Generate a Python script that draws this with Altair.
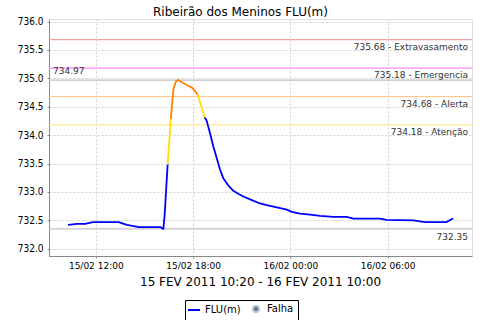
import altair as alt
import pandas as pd

# ---- Série FLU(m) ----
horas = [
    "2011-02-15T10:20", "2011-02-15T10:50", "2011-02-15T11:20", "2011-02-15T11:50",
    "2011-02-15T13:25", "2011-02-15T13:55", "2011-02-15T14:40", "2011-02-15T16:00",
    "2011-02-15T16:10", "2011-02-15T16:15", "2011-02-15T16:26", "2011-02-15T16:38",
    "2011-02-15T16:47", "2011-02-15T16:56", "2011-02-15T17:05", "2011-02-15T17:18",
    "2011-02-15T17:42", "2011-02-15T17:55", "2011-02-15T18:07", "2011-02-15T18:17",
    "2011-02-15T18:44", "2011-02-15T18:50", "2011-02-15T19:03", "2011-02-15T19:15",
    "2011-02-15T19:28", "2011-02-15T19:40", "2011-02-15T19:52", "2011-02-15T20:11",
    "2011-02-15T20:29", "2011-02-15T20:47", "2011-02-15T21:06", "2011-02-15T21:31",
    "2011-02-15T22:01", "2011-02-15T22:32", "2011-02-15T23:10", "2011-02-15T23:47",
    "2011-02-16T00:05", "2011-02-16T00:36", "2011-02-16T01:13", "2011-02-16T01:50",
    "2011-02-16T02:39", "2011-02-16T03:28", "2011-02-16T03:53", "2011-02-16T05:32",
    "2011-02-16T05:56", "2011-02-16T07:35", "2011-02-16T08:18", "2011-02-16T09:38",
    "2011-02-16T10:00",
]
nivel = [
    732.42, 732.44, 732.44, 732.47,
    732.47, 732.42, 732.38, 732.38,
    732.35, 732.60, 733.49, 734.30,
    734.80, 734.94, 734.97, 734.93,
    734.87, 734.84, 734.78, 734.71,
    734.30, 734.26, 734.03, 733.80,
    733.59, 733.39, 733.24, 733.11,
    733.02, 732.97, 732.92, 732.87,
    732.81, 732.77, 732.73, 732.69,
    732.65, 732.62, 732.60, 732.58,
    732.56, 732.56, 732.53, 732.53,
    732.51, 732.50, 732.47, 732.47,
    732.53,
]
# colour class of the segment that ends at each point
cor_segmento = (
    ["azul"] * 11 + ["amarelo"] + ["laranja"] * 8 + ["amarelo"] + ["azul"] * 28
)
classes = ["azul", "amarelo", "laranja"]
classes_cores = ["#0000FF", "#FFE000", "#FF8000"]

# ---- Limiares ----
limiar_valores = [735.68, 735.18, 734.68, 734.18]
limiar_nomes = ["Extravasamento", "Emergencia", "Alerta", "Atenção"]
limiar_cores = ["#F4A0A0", "#FF8CFF", "#FFC888", "#FFE88C"]

maximo = 734.97
minimo = 732.35

y_ticks = [732.0, 732.5, 733.0, 733.5, 734.0, 734.5, 735.0, 735.5, 736.0]
titulo = "Ribeirão dos Meninos FLU(m)"
subtitulo = "15 FEV 2011 10:20 - 16 FEV 2011 10:00"
legenda_series = ["FLU(m)", "Falha"]
legenda_cores = ["#0000FF", "#C0C0C0"]

# ---- build tables ----
rows = []
run = 0
for i in range(1, len(horas)):
    if i > 1 and cor_segmento[i] != cor_segmento[i - 1]:
        run += 1
    for j in (i - 1, i):
        rows.append({"t": horas[j], "v": nivel[j], "run": run, "cor": cor_segmento[i]})
serie = pd.DataFrame(rows)

limiares = pd.DataFrame({
    "v": limiar_valores,
    "nome": limiar_nomes,
    "rotulo": [f"{v:.2f} - {n}" for v, n in zip(limiar_valores, limiar_nomes)],
})
extremos_max = pd.DataFrame({"v": [maximo], "rotulo": [f"{maximo:.2f}"]})
extremos_min = pd.DataFrame({"v": [minimo], "rotulo": [f"{minimo:.2f}"]})
legenda = pd.DataFrame({"serie": legenda_series})

W, H = 423, 237
FONT = "DejaVu Sans"

x_scale = alt.Scale(domain=[alt.DateTime(year=2011, month=2, date=15, hours=9, minutes=7),
                            alt.DateTime(year=2011, month=2, date=16, hours=11, minutes=12)])
y_scale = alt.Scale(domain=[731.873, 736.044], nice=False, zero=False)

x_axis = alt.Axis(
    title=None,
    values=[alt.DateTime(year=2011, month=2, date=15, hours=12),
            alt.DateTime(year=2011, month=2, date=15, hours=18),
            alt.DateTime(year=2011, month=2, date=16, hours=0),
            alt.DateTime(year=2011, month=2, date=16, hours=6)],
    format="%d/%m %H:%M", labelFontSize=9, labelFont=FONT, labelColor="#000",
    tickSize=2, labelPadding=3,
    domainColor="#888888", tickColor="#888888",
    gridColor="#D0D0D0", gridDash=[2, 2],
)
y_axis = alt.Axis(
    title=None, values=y_ticks, format=".1f", labelFontSize=10,
    labelFont="DejaVu Sans Condensed", labelColor="#000",
    tickSize=2, labelPadding=4, domainColor="#888888", tickColor="#888888",
    gridColor="#D0D0D0", gridDash=[2, 2],
)

X = alt.X("t:T", scale=x_scale, axis=x_axis)
Y = alt.Y("v:Q", scale=y_scale, axis=y_axis)

regras = alt.Chart(limiares).mark_rule(strokeWidth=1.2).encode(
    y=Y,
    color=alt.Color("nome:N", scale=alt.Scale(domain=limiar_nomes, range=limiar_cores), legend=None),
)
regras_ext = alt.Chart(pd.concat([extremos_max, extremos_min])).mark_rule(
    strokeWidth=1.2, color="#C0C0C0").encode(y=Y)

rot_lim = alt.Chart(limiares).mark_text(
    align="right", baseline="top", dy=3, fontSize=9, font=FONT, color="#333333"
).encode(y=Y, x=alt.value(W - 4), text="rotulo:N")
rot_max = alt.Chart(extremos_max).mark_text(
    align="left", baseline="bottom", dy=-4, fontSize=9, font=FONT, color="#333333"
).encode(y=Y, x=alt.value(4), text="rotulo:N")
rot_min = alt.Chart(extremos_min).mark_text(
    align="right", baseline="top", dy=4, fontSize=9, font=FONT, color="#333333"
).encode(y=Y, x=alt.value(W - 4), text="rotulo:N")

# period caption under the time axis (axis title)
periodo = alt.Chart(pd.DataFrame({"rotulo": [subtitulo]})).mark_text(
    align="center", baseline="alphabetic", fontSize=12, font=FONT,
    fontWeight="normal", color="#000"
).encode(x=alt.value(W / 2), y=alt.value(H + 30), text="rotulo:N")

linha = alt.Chart(serie).mark_line(strokeWidth=1.8, strokeJoin="round", strokeCap="round").encode(
    x=X, y=Y,
    color=alt.Color("cor:N", scale=alt.Scale(domain=classes, range=classes_cores), legend=None),
    detail="run:N",
)

leg = alt.Legend(
    title=None, orient="none", legendX=136, legendY=281, direction="horizontal",
    strokeColor="#000", fillColor="#FFF", padding=4, cornerRadius=0,
    labelFontSize=10, labelFont=FONT, labelColor="#000", symbolSize=36,
    symbolStrokeWidth=2, symbolOpacity=1, symbolFillColor="#C0C0C0",
    columnPadding=8, labelOffset=6,
)
legenda_layer = alt.Chart(legenda).mark_point(filled=True, opacity=0).encode(
    stroke=alt.Stroke("serie:N", scale=alt.Scale(domain=legenda_series, range=legenda_cores), legend=leg),
    shape=alt.Shape("serie:N", scale=alt.Scale(domain=legenda_series, range=["M-2,0H2", "circle"]), legend=leg),
)

chart = alt.layer(
    regras, regras_ext, rot_lim, rot_max, rot_min, linha, periodo, legenda_layer
).resolve_scale(color="independent").properties(
    width=W, height=H,
    title=alt.TitleParams(titulo, font=FONT, fontSize=12, fontWeight="normal",
                          color="#000", anchor="middle", dx=-20, dy=7, offset=5),
    autosize=alt.AutoSizeParams(type="none"),
    padding={"left": 49, "top": 19, "right": 8, "bottom": 64},
).configure_view(stroke="#B0B0B0").configure_legend(
    strokeColor="#000000", fillColor="#FFFFFF", padding=4, cornerRadius=0, strokeWidth=1
).configure(background="white")

chart.save("out.html", embed_options={"renderer": "svg", "actions": False})
